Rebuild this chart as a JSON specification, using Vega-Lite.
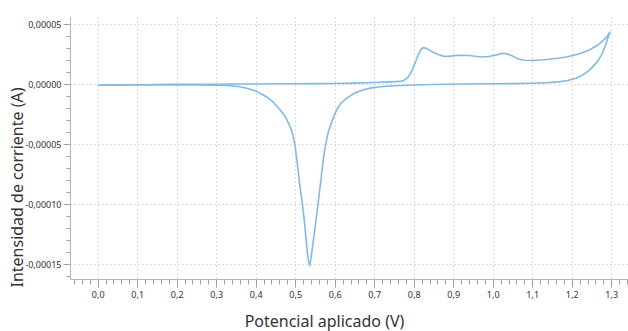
{
  "$schema": "https://vega.github.io/schema/vega-lite/v6.json",
  "width": 558,
  "height": 262,
  "autosize": {"type": "none"},
  "padding": {"left": 70, "top": 17, "right": 0, "bottom": 52},
  "background": "white",
  "config": {
    "font": "Noto Sans",
    "view": {"stroke": null},
    "locale": {"number": {"decimal": ",", "thousands": ".", "grouping": [3], "currency": ["", " €"], "minus": "-"}}
  },
  "data": {"values": [
    {"o": 1, "v": 0.00, "i": -6e-7},
    {"o": 2, "v": 0.05, "i": -5e-7},
    {"o": 3, "v": 0.10, "i": -4e-7},
    {"o": 4, "v": 0.15, "i": -3e-7},
    {"o": 5, "v": 0.20, "i": -1e-7},
    {"o": 6, "v": 0.25, "i": 0},
    {"o": 7, "v": 0.30, "i": 1e-7},
    {"o": 8, "v": 0.35, "i": 2e-7},
    {"o": 9, "v": 0.40, "i": 3e-7},
    {"o": 10, "v": 0.45, "i": 4e-7},
    {"o": 11, "v": 0.50, "i": 5e-7},
    {"o": 12, "v": 0.55, "i": 6e-7},
    {"o": 13, "v": 0.60, "i": 7e-7},
    {"o": 14, "v": 0.65, "i": 1.0e-6},
    {"o": 15, "v": 0.70, "i": 1.5e-6},
    {"o": 16, "v": 0.74, "i": 2.0e-6},
    {"o": 17, "v": 0.765, "i": 2.4e-6},
    {"o": 18, "v": 0.775, "i": 3.2e-6},
    {"o": 19, "v": 0.785, "i": 5.5e-6},
    {"o": 20, "v": 0.795, "i": 1.1e-5},
    {"o": 21, "v": 0.805, "i": 1.9e-5},
    {"o": 22, "v": 0.812, "i": 2.5e-5},
    {"o": 23, "v": 0.818, "i": 2.9e-5},
    {"o": 24, "v": 0.824, "i": 3.05e-5},
    {"o": 25, "v": 0.83, "i": 3.02e-5},
    {"o": 26, "v": 0.84, "i": 2.85e-5},
    {"o": 27, "v": 0.85, "i": 2.65e-5},
    {"o": 28, "v": 0.86, "i": 2.5e-5},
    {"o": 29, "v": 0.875, "i": 2.35e-5},
    {"o": 30, "v": 0.89, "i": 2.33e-5},
    {"o": 31, "v": 0.91, "i": 2.42e-5},
    {"o": 32, "v": 0.94, "i": 2.4e-5},
    {"o": 33, "v": 0.97, "i": 2.28e-5},
    {"o": 34, "v": 0.99, "i": 2.32e-5},
    {"o": 35, "v": 1.01, "i": 2.45e-5},
    {"o": 36, "v": 1.025, "i": 2.58e-5},
    {"o": 37, "v": 1.035, "i": 2.55e-5},
    {"o": 38, "v": 1.05, "i": 2.35e-5},
    {"o": 39, "v": 1.065, "i": 2.1e-5},
    {"o": 40, "v": 1.08, "i": 2.0e-5},
    {"o": 41, "v": 1.10, "i": 1.98e-5},
    {"o": 42, "v": 1.13, "i": 2.04e-5},
    {"o": 43, "v": 1.16, "i": 2.15e-5},
    {"o": 44, "v": 1.19, "i": 2.3e-5},
    {"o": 45, "v": 1.22, "i": 2.55e-5},
    {"o": 46, "v": 1.245, "i": 2.86e-5},
    {"o": 47, "v": 1.265, "i": 3.25e-5},
    {"o": 48, "v": 1.28, "i": 3.65e-5},
    {"o": 49, "v": 1.29, "i": 4.0e-5},
    {"o": 50, "v": 1.297, "i": 4.38e-5},
    {"o": 51, "v": 1.285, "i": 3.2e-5},
    {"o": 52, "v": 1.275, "i": 2.4e-5},
    {"o": 53, "v": 1.265, "i": 1.9e-5},
    {"o": 54, "v": 1.25, "i": 1.35e-5},
    {"o": 55, "v": 1.24, "i": 1.05e-5},
    {"o": 56, "v": 1.225, "i": 7.2e-6},
    {"o": 57, "v": 1.21, "i": 5.0e-6},
    {"o": 58, "v": 1.19, "i": 3.2e-6},
    {"o": 59, "v": 1.17, "i": 2.2e-6},
    {"o": 60, "v": 1.14, "i": 1.4e-6},
    {"o": 61, "v": 1.10, "i": 9e-7},
    {"o": 62, "v": 1.05, "i": 6e-7},
    {"o": 63, "v": 1.00, "i": 4e-7},
    {"o": 64, "v": 0.92, "i": 2e-7},
    {"o": 65, "v": 0.85, "i": -2e-7},
    {"o": 66, "v": 0.80, "i": -6e-7},
    {"o": 67, "v": 0.75, "i": -1.2e-6},
    {"o": 68, "v": 0.715, "i": -2.0e-6},
    {"o": 69, "v": 0.69, "i": -3.2e-6},
    {"o": 70, "v": 0.67, "i": -4.8e-6},
    {"o": 71, "v": 0.65, "i": -7.5e-6},
    {"o": 72, "v": 0.63, "i": -1.17e-5},
    {"o": 73, "v": 0.615, "i": -1.6e-5},
    {"o": 74, "v": 0.605, "i": -2.14e-5},
    {"o": 75, "v": 0.595, "i": -2.9e-5},
    {"o": 76, "v": 0.584, "i": -3.95e-5},
    {"o": 77, "v": 0.577, "i": -5.0e-5},
    {"o": 78, "v": 0.571, "i": -6.3e-5},
    {"o": 79, "v": 0.565, "i": -8.0e-5},
    {"o": 80, "v": 0.558, "i": -9.9e-5},
    {"o": 81, "v": 0.551, "i": -1.18e-4},
    {"o": 82, "v": 0.544, "i": -1.35e-4},
    {"o": 83, "v": 0.540, "i": -1.45e-4},
    {"o": 84, "v": 0.537, "i": -1.506e-4},
    {"o": 85, "v": 0.534, "i": -1.48e-4},
    {"o": 86, "v": 0.531, "i": -1.41e-4},
    {"o": 87, "v": 0.527, "i": -1.27e-4},
    {"o": 88, "v": 0.522, "i": -1.10e-4},
    {"o": 89, "v": 0.517, "i": -9.7e-5},
    {"o": 90, "v": 0.512, "i": -8.5e-5},
    {"o": 91, "v": 0.506, "i": -6.8e-5},
    {"o": 92, "v": 0.500, "i": -5.2e-5},
    {"o": 93, "v": 0.494, "i": -4.2e-5},
    {"o": 94, "v": 0.487, "i": -3.5e-5},
    {"o": 95, "v": 0.475, "i": -2.7e-5},
    {"o": 96, "v": 0.462, "i": -2.14e-5},
    {"o": 97, "v": 0.445, "i": -1.5e-5},
    {"o": 98, "v": 0.43, "i": -1.1e-5},
    {"o": 99, "v": 0.419, "i": -8.9e-6},
    {"o": 100, "v": 0.40, "i": -5.5e-6},
    {"o": 101, "v": 0.38, "i": -3.5e-6},
    {"o": 102, "v": 0.36, "i": -2.0e-6},
    {"o": 103, "v": 0.33, "i": -1.0e-6},
    {"o": 104, "v": 0.30, "i": -7e-7},
    {"o": 105, "v": 0.25, "i": -5e-7},
    {"o": 106, "v": 0.20, "i": -5e-7},
    {"o": 107, "v": 0.15, "i": -6e-7},
    {"o": 108, "v": 0.10, "i": -6e-7},
    {"o": 109, "v": 0.05, "i": -7e-7},
    {"o": 110, "v": 0.00, "i": -7e-7}
  ]},
  "mark": {"type": "line", "color": "#82b9e6", "strokeWidth": 1.6},
  "encoding": {
    "order": {"field": "o", "type": "quantitative"},
    "x": {
      "field": "v", "type": "quantitative",
      "scale": {"domain": [-0.0701, 1.3425], "nice": false, "zero": false},
      "axis": {
        "values": [-0.06,-0.04,-0.02,0,0.02,0.04,0.06,0.08,0.1,0.12,0.14,0.16,0.18,0.2,0.22,0.24,0.26,0.28,0.3,0.32,0.34,0.36,0.38,0.4,0.42,0.44,0.46,0.48,0.5,0.52,0.54,0.56,0.58,0.6,0.62,0.64,0.66,0.68,0.7,0.72,0.74,0.76,0.78,0.8,0.82,0.84,0.86,0.88,0.9,0.92,0.94,0.96,0.98,1,1.02,1.04,1.06,1.08,1.1,1.12,1.14,1.16,1.18,1.2,1.22,1.24,1.26,1.28,1.3,1.32,1.34],
        "labelExpr": "abs(datum.value*10 - round(datum.value*10)) < 0.001 ? format(datum.value, '.1f') : ''",
        "tickSize": {"condition": {"test": "abs(datum.value*10 - round(datum.value*10)) < 0.001", "value": 8}, "value": 5},
        "gridOpacity": {"condition": {"test": "abs(datum.value*10 - round(datum.value*10)) < 0.001", "value": 1}, "value": 0},
        "grid": true, "gridDash": [1, 3], "gridColor": "#bbbbbb",
        "tickColor": "#a0a0a0", "domainColor": "#b5b5b5",
        "labelFontSize": 9, "labelColor": "#333333", "labelPadding": 3,
        "labelOverlap": false, "labelFlush": false,
        "title": "Potencial aplicado (V)",
        "titleFontSize": 16, "titleFontWeight": "normal", "titleColor": "#333333",
        "titleX": 254, "titleY": 47, "titleAlign": "center", "titleBaseline": "alphabetic"
      }
    },
    "y": {
      "field": "i", "type": "quantitative",
      "scale": {"domain": [-0.00016225, 0.00005608], "nice": false, "zero": false},
      "axis": {
        "values": [-0.00016,-0.00015,-0.00014,-0.00013,-0.00012,-0.00011,-0.0001,-0.00009,-0.00008,-0.00007,-0.00006,-0.00005,-0.00004,-0.00003,-0.00002,-0.00001,0,0.00001,0.00002,0.00003,0.00004,0.00005],
        "labelExpr": "abs(datum.value*20000 - round(datum.value*20000)) < 0.01 ? format(datum.value, '.5f') : ''",
        "tickSize": {"condition": {"test": "abs(datum.value*20000 - round(datum.value*20000)) < 0.01", "value": 7}, "value": 4},
        "gridOpacity": {"condition": {"test": "abs(datum.value*20000 - round(datum.value*20000)) < 0.01", "value": 1}, "value": 0},
        "grid": true, "gridDash": [1, 3], "gridColor": "#bbbbbb",
        "tickColor": "#a0a0a0", "domainColor": "#b5b5b5",
        "labelFontSize": 9, "labelColor": "#333333", "labelPadding": 2,
        "labelOverlap": false, "labelFlush": false,
        "title": "Intensidad de corriente (A)",
        "titleFontSize": 16, "titleFontWeight": "normal", "titleColor": "#333333",
        "titleX": -53, "titleY": 170, "titleAlign": "center", "titleBaseline": "middle", "titleAngle": -90
      }
    }
  }
}
